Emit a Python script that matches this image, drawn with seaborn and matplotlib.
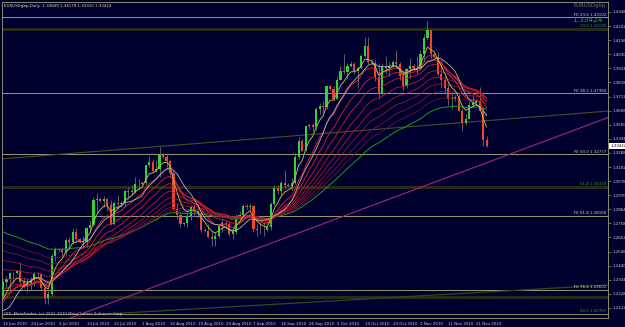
import numpy as np
import pandas as pd
import matplotlib
matplotlib.use("Agg")
import matplotlib.pyplot as plt
import matplotlib.transforms as mtransforms
import seaborn as sns

# ---------------- data (EURUSD daily, broker with Sunday bars) ----------------
opens = [1.2215,1.2320,1.2340,1.2385,
 1.2385,1.2400,1.2320,1.2285,1.2310,1.2335,
 1.2380,1.2375,1.2270,1.2195,1.2230,1.2515,
 1.2565,1.2555,1.2545,1.2635,1.2620,1.2695,
 1.2640,1.2625,1.2615,1.2725,1.2745,1.2935,
 1.2945,1.2930,1.2940,1.2900,1.2755,1.2915,
 1.2905,1.2915,1.3000,1.2995,1.2995,1.3055,
 1.3055,1.3065,1.3195,1.3220,1.3155,1.3170,
 1.3275,1.3260,1.3225,1.3140,1.2865,1.2820,
 1.2755,1.2760,1.2810,1.2885,1.2850,1.2825,
 1.2710,1.2700,1.2655,1.2640,1.2660,1.2735,
 1.2760,1.2750,1.2675,1.2690,1.2815,1.2820,
 1.2890,1.2885,1.2890,1.2715,1.2710,1.2705,
 1.2710,1.2730,1.2905,1.3025,1.3005,1.3065,
 1.3050,1.3040,1.3060,1.3260,1.3380,1.3305,
 1.3490,1.3495,1.3480,1.3615,1.3640,1.3630,
 1.3790,1.3770,1.3690,1.3840,1.3905,1.3895,
 1.3945,1.3960,1.3905,1.3930,1.4020,1.4090,
 1.3975,1.3965,1.3860,1.3730,1.3945,1.3930,
 1.3945,1.3970,1.3960,1.3870,1.3790,1.3920,
 1.3945,1.3930,1.3920,1.4030,1.4150,1.4210,
 1.4030,1.4010,1.3880,1.3835,1.3775,1.3695,
 1.3695,1.3710,1.3600,1.3515,1.3545,1.3650,
 1.3665,1.3680,1.3600,1.3385]
highs = [1.2335,1.2365,1.2395,1.2395,
 1.2410,1.2470,1.2345,1.2340,1.2355,1.2390,
 1.2395,1.2385,1.2280,1.2255,1.2525,1.2580,
 1.2575,1.2580,1.2650,1.2655,1.2725,1.2720,
 1.2650,1.2660,1.2730,1.2780,1.2955,1.2990,
 1.2960,1.2965,1.2950,1.2935,1.2925,1.2970,
 1.2925,1.3010,1.3035,1.3045,1.3110,1.3090,
 1.3075,1.3200,1.3265,1.3240,1.3235,1.3335,
 1.3290,1.3290,1.3240,1.3160,1.2910,1.2845,
 1.2770,1.2840,1.2900,1.2905,1.2895,1.2840,
 1.2725,1.2755,1.2690,1.2690,1.2755,1.2790,
 1.2775,1.2770,1.2725,1.2825,1.2850,1.2905,
 1.2905,1.2915,1.2900,1.2750,1.2760,1.2770,
 1.2740,1.2920,1.3045,1.3050,1.3080,1.3160,
 1.3065,1.3100,1.3285,1.3410,1.3390,1.3500,
 1.3505,1.3515,1.3630,1.3660,1.3680,1.3800,
 1.3800,1.3795,1.3860,1.3945,1.4030,1.3965,
 1.3980,1.3970,1.3935,1.4030,1.4160,1.4160,
 1.3990,1.3985,1.3965,1.3965,1.4015,1.3975,
 1.3985,1.4065,1.3975,1.3905,1.3930,1.4005,
 1.3960,1.4015,1.4060,1.4180,1.4282,1.4215,
 1.4045,1.4045,1.3995,1.3870,1.3815,1.3745,
 1.3720,1.3735,1.3625,1.3580,1.3680,1.3730,
 1.3690,1.3785,1.3630,1.3418]
lows = [1.2200,1.2270,1.2255,1.2310,
 1.2375,1.2300,1.2270,1.2245,1.2255,1.2290,
 1.2365,1.2255,1.2155,1.2150,1.2210,1.2475,
 1.2545,1.2510,1.2520,1.2565,1.2600,1.2615,
 1.2615,1.2570,1.2580,1.2690,1.2735,1.2845,
 1.2920,1.2885,1.2850,1.2745,1.2745,1.2870,
 1.2890,1.2885,1.2940,1.2970,1.2990,1.3010,
 1.3040,1.3045,1.3180,1.3135,1.3145,1.3110,
 1.3250,1.3180,1.3110,1.2860,1.2790,1.2730,
 1.2735,1.2730,1.2785,1.2815,1.2800,1.2695,
 1.2690,1.2655,1.2590,1.2585,1.2650,1.2690,
 1.2740,1.2660,1.2640,1.2680,1.2790,1.2795,
 1.2870,1.2860,1.2695,1.2660,1.2675,1.2660,
 1.2700,1.2705,1.2890,1.2980,1.2975,1.3025,
 1.3030,1.3010,1.3055,1.3240,1.3300,1.3300,
 1.3470,1.3455,1.3460,1.3580,1.3575,1.3620,
 1.3760,1.3675,1.3690,1.3835,1.3880,1.3855,
 1.3935,1.3880,1.3775,1.3920,1.4010,1.3960,
 1.3950,1.3830,1.3700,1.3725,1.3890,1.3865,
 1.3935,1.3935,1.3835,1.3760,1.3775,1.3850,
 1.3915,1.3880,1.3915,1.3970,1.4135,1.4005,
 1.4000,1.3870,1.3775,1.3735,1.3645,1.3620,
 1.3680,1.3600,1.3450,1.3495,1.3540,1.3635,
 1.3650,1.3610,1.3340,1.3331]
closes = [1.2320,1.2340,1.2385,1.2385,
 1.2400,1.2320,1.2285,1.2310,1.2335,1.2380,
 1.2375,1.2270,1.2195,1.2230,1.2515,1.2565,
 1.2555,1.2545,1.2635,1.2620,1.2695,1.2640,
 1.2625,1.2615,1.2725,1.2745,1.2935,1.2945,
 1.2930,1.2940,1.2900,1.2755,1.2915,1.2905,
 1.2915,1.3000,1.2995,1.2995,1.3055,1.3055,
 1.3065,1.3195,1.3220,1.3155,1.3170,1.3275,
 1.3260,1.3225,1.3140,1.2865,1.2820,1.2755,
 1.2760,1.2810,1.2885,1.2850,1.2825,1.2710,
 1.2700,1.2655,1.2640,1.2660,1.2735,1.2760,
 1.2750,1.2675,1.2690,1.2815,1.2820,1.2890,
 1.2885,1.2890,1.2715,1.2710,1.2705,1.2710,
 1.2730,1.2905,1.3025,1.3005,1.3065,1.3050,
 1.3040,1.3060,1.3260,1.3380,1.3305,1.3490,
 1.3495,1.3480,1.3615,1.3640,1.3630,1.3790,
 1.3770,1.3690,1.3840,1.3905,1.3895,1.3945,
 1.3960,1.3905,1.3930,1.4020,1.4090,1.3975,
 1.3965,1.3860,1.3730,1.3945,1.3930,1.3945,
 1.3970,1.3960,1.3870,1.3790,1.3920,1.3945,
 1.3930,1.3920,1.4030,1.4150,1.4210,1.4030,
 1.4010,1.3880,1.3835,1.3775,1.3695,1.3695,
 1.3710,1.3600,1.3515,1.3545,1.3650,1.3665,
 1.3680,1.3600,1.3385,1.3342]
# closes before the visible window (only feed the moving averages)
warmup_closes = [1.3390,1.3185,1.3230,1.3240,1.3295,1.3200,1.2985,1.2820,1.2620,
 1.2755,1.2790,1.2650,1.2635,1.2530,1.2370,1.2350,1.2220,1.2355,1.2550,1.2565,
 1.2345,1.2385,1.2200,1.2360,1.2265,1.2300,1.2225,1.2255,1.2170,1.1965,1.1925,
 1.1975,1.1995,1.2105,1.2110,1.2215]

band_periods = [10, 15, 20, 26, 32, 38, 45, 52]
band_colors = ["#ff2a2a", "#ee2626", "#dc2226", "#c81e28", "#b41a2a", "#a0182c", "#8c142e", "#781230"]
green_period = 62

fe_labels = ["FE 23.6", "FE 38.2", "FE 50.0", "FE 61.8", "FE 76.4"]
fe_prices = [1.43102, 1.37394, 1.32777, 1.28160, 1.22602]
dark_labels = ["23.6", "61.8", ""]
dark_prices = [1.42199, 1.30318, 1.22046]
base_label = "50.0"
base_price = 1.20767

olive_tl_x = [-1, 174]
olive_tl_p = [1.3242, 1.3603]
magenta_tl_x = [15, 174]
magenta_tl_p = [1.2004, 1.3555]
green_tl_x = [30, 174]
green_tl_p = [1.2077, 1.2295]

ytick_vals = [1.4348, 1.4242, 1.4136, 1.4030, 1.3924, 1.3818, 1.3712, 1.3606, 1.3500,
              1.3394, 1.3288, 1.3182, 1.3076, 1.2970, 1.2864, 1.2758, 1.2652, 1.2546,
              1.2440, 1.2334, 1.2228, 1.2122]
title_text = "EURUSDgbp,Daily  1.33849 1.34179 1.33310 1.33424"
last_price = 1.33424

# ---------------- style ----------------
BG = "#00002e"
sns.set_style("dark", {"axes.facecolor": BG, "figure.facecolor": BG})
plt.rcParams["font.family"] = ["Liberation Sans Narrow", "DejaVu Sans"]

W, H = 625, 327
fig = plt.figure(figsize=(W / 100, H / 100), dpi=100, facecolor=BG)
ax = fig.add_axes([2 / W, 9 / H, 606 / W, 316 / H])
ax.set_facecolor(BG)
ax.grid(False)

n = len(closes)
xs = np.arange(n)
dates = pd.bdate_range("2010-06-15", "2010-11-24", freq="C",
                       weekmask="Sun Mon Tue Wed Thu Fri")[:n]

o = np.array(opens); h = np.array(highs); l = np.array(lows); c = np.array(closes)

# horizontal levels
for p in dark_prices:
    ax.axhline(p, color="#2a2a1c", lw=2.2, zorder=1)
for p in fe_prices:
    ax.axhline(p, color="#9a9a74", lw=0.7, zorder=1.2)
ax.axhline(base_price, color="#8a8a60", lw=0.7, zorder=1.2)

# trend lines
sns.lineplot(x=olive_tl_x, y=olive_tl_p, ax=ax, color="#4c4c2c", lw=0.8, zorder=1.5)
sns.lineplot(x=magenta_tl_x, y=magenta_tl_p, ax=ax, color="#a0287a", lw=0.8, zorder=1.5)
sns.lineplot(x=green_tl_x, y=green_tl_p, ax=ax, color="#2e4a22", lw=0.9, zorder=1.5)

# candles
up = c >= o
ax.vlines(xs, l, h, color="#6e6e6e", lw=0.6, zorder=3)
body_lo = np.minimum(o, c)
body_h = np.maximum(np.abs(c - o), 0.0003)
ax.bar(xs[up], body_h[up], bottom=body_lo[up], width=0.62, color="#34d234", lw=0, zorder=3.2)
ax.bar(xs[~up], body_h[~up], bottom=body_lo[~up], width=0.62, color="#f0452f", lw=0, zorder=3.2)

# moving averages
full = pd.Series(warmup_closes + closes)
k = len(warmup_closes)
def ema(p):
    return full.ewm(span=p, adjust=False).mean().to_numpy()[k:]
def sma(p):
    return full.rolling(p, min_periods=1).mean().to_numpy()[k:]

sns.lineplot(x=xs, y=ema(green_period), ax=ax, color="#1c9a1c", lw=0.7, zorder=4, sort=False)
for per, col in reversed(list(zip(band_periods, band_colors))):
    sns.lineplot(x=xs, y=ema(per), ax=ax, color=col, lw=0.55, zorder=4, sort=False)
sns.lineplot(x=xs, y=sma(10), ax=ax, color="#b8b8a0", lw=0.6, zorder=4.2, sort=False)
sns.lineplot(x=xs, y=sma(5), ax=ax, color="#2838c8", lw=0.6, zorder=4.2, sort=False,
             linestyle=":")
sns.lineplot(x=xs, y=ema(5), ax=ax, color="#c8c820", lw=0.6, zorder=4.4, sort=False)

# limits (pixel calibration 0.000752 per px)
ax.set_xlim(-0.29, 173.9)
ax.set_ylim(1.20466, 1.44230)

# labels on levels
FS = 2.9
xr = 173.3
for lab, p in zip(fe_labels, fe_prices):
    ax.text(xr, p + 0.0003, f"{lab} {p:.5f}", ha="right", va="bottom", fontsize=FS,
            color="#cfcfcf", zorder=6)
for lab, p in zip(dark_labels, dark_prices):
    if lab:
        ax.text(xr, p + 0.0010, f"{lab} {p:.5f}", ha="right", va="bottom", fontsize=FS,
                color="#2a9a2a", zorder=6)
ax.text(xr, base_price + 0.0005, f"{base_label} {base_price:.5f}", ha="right", va="bottom",
        fontsize=FS, color="#3aa03a", zorder=6)

# top-right indicator texts
fig.text(606 / W, 1 - 5.5 / H, "EURUSDgbp", ha="right", va="center", fontsize=3.8, color="#707070")
fig.text(572 / W, 1 - 20.5 / H, f"{last_price:.5f}", ha="left", va="center", fontsize=5.4,
         color="#22b022")

# title and copyright
fig.text(4 / W, 1 - 5.5 / H, title_text, ha="left", va="center", fontsize=FS, color="#d8d8d8")
ax.text(1.5 / 606, 4 / 316, "ODL MetaTrader, (c) 2001-2010 MetaQuotes Software Corp.",
        transform=ax.transAxes, ha="left", va="center", fontsize=FS, color="#c8c8c8", zorder=6)

# axes styling
for s in ax.spines.values():
    s.set_color("#8c8c6a")
    s.set_linewidth(0.7)
ax.yaxis.tick_right()
ax.set_yticks(ytick_vals)
ax.set_yticklabels([f"{v:.5f}" for v in ytick_vals])
tick_pos = xs[::8]
tick_lab = [f"{d.day} {d.strftime('%b %Y')}" for d in dates[::8]]
ax.set_xticks(tick_pos)
ax.set_xticklabels(tick_lab, ha="left")
ax.tick_params(axis="both", colors="#8c8c6a", labelcolor="#d0d0d0", labelsize=FS,
               length=2, width=0.5, pad=1)
ax.tick_params(axis="y", left=False, right=True, pad=1.5)
ax.set_xlabel("")
ax.set_ylabel("")

# current price marker on the price scale
trans = mtransforms.blended_transform_factory(ax.transAxes, ax.transData)
ax.text(1.004, last_price, f"{last_price:.5f}", transform=trans, ha="left", va="center",
        fontsize=FS, color="black", zorder=7, clip_on=False,
        bbox=dict(boxstyle="square,pad=0.25", fc="white", ec="none"))

fig.savefig("out.png", dpi=100, facecolor=BG)
